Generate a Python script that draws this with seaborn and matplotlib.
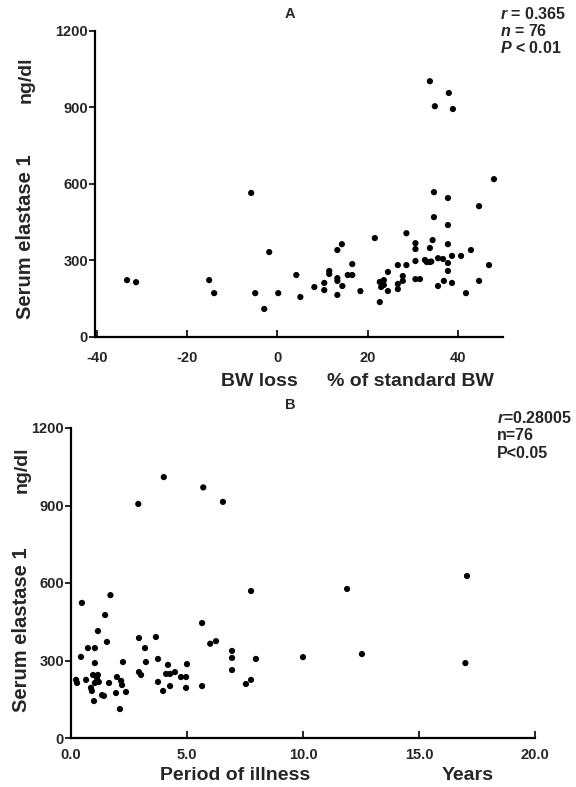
import matplotlib
matplotlib.use("Agg")
import matplotlib.pyplot as plt
import pandas as pd
import seaborn as sns

# Panel A: body weight loss (% of standard BW) vs serum elastase 1 (ng/dl)
bw_loss = [-33.3, -31.3, -15.1, -14.0, -5.8, -4.9, -2.9, -1.8, 0.2, 4.2,
           5.1, 8.2, 10.4, 10.4, 11.5, 11.5, 13.3, 14.3, 13.3, 13.3,
           14.4, 13.3, 15.6, 16.6, 16.6, 18.4, 21.6, 22.7, 22.7, 23.6,
           23.6, 24.5, 24.5, 26.7, 26.7, 26.7, 27.8, 27.8, 28.6, 28.6,
           30.6, 30.6, 30.6, 30.6, 31.6, 32.7, 33.1, 33.8, 33.8, 34.4,
           34.7, 35.6, 35.6, 36.7, 36.9, 37.8, 37.8, 37.8, 37.8, 38.7,
           38.7, 40.7, 41.8, 42.9, 44.7, 44.7, 46.9, 33.8, 38.0, 34.9,
           38.9, 48.0, 34.7, 37.8, 23.0, 34.1]
elastase_a = [223, 215, 223, 172, 565, 172, 110, 333, 172, 243,
              157, 196, 184, 212, 259, 247, 341, 364, 231, 220,
              200, 165, 243, 243, 286, 180, 388, 137, 216, 223,
              204, 255, 180, 208, 188, 282, 220, 239, 407, 282,
              368, 345, 298, 227, 227, 302, 294, 294, 349, 380,
              470, 200, 309, 306, 220, 364, 290, 259, 439, 318,
              212, 318, 172, 341, 513, 220, 282, 1003, 957, 905,
              894, 619, 568, 545, 196, 296]

# Panel B: period of illness (years) vs serum elastase 1 (ng/dl)
illness_years = [4.0, 5.7, 6.55, 2.9, 0.47, 1.7, 1.47, 1.16, 1.55, 2.93,
                 3.66, 5.65, 6.0, 6.25, 7.76, 11.9, 17.07, 5.65, 6.94, 6.94,
                 6.94, 7.54, 7.76, 7.97, 10.0, 12.54, 17.0, 0.43, 0.73, 1.03,
                 3.19, 1.03, 2.24, 3.23, 3.75, 4.18, 5.0, 0.22, 0.26, 0.65,
                 0.95, 1.16, 1.12, 1.2, 1.03, 0.86, 0.9, 0.99, 1.34, 1.42,
                 1.64, 1.98, 1.94, 2.16, 2.2, 2.37, 2.11, 2.93, 3.02, 3.75,
                 3.97, 4.1, 4.27, 4.27, 4.48, 4.74, 4.96, 4.96]
elastase_b = [1010, 970, 914, 906, 523, 553, 476, 414, 372, 387,
              391, 445, 365, 375, 569, 577, 627, 201, 337, 310,
              263, 209, 225, 306, 313, 325, 290, 314, 348, 348,
              348, 290, 294, 294, 306, 283, 286, 225, 213, 225,
              244, 244, 232, 217, 213, 194, 182, 143, 166, 163,
              213, 236, 174, 221, 205, 178, 112, 255, 244, 217,
              182, 248, 248, 201, 255, 236, 236, 194]

y_ticks = [0, 300, 600, 900, 1200]
a_xticks = [-40, -20, 0, 20, 40]
b_xticks = [0, 5, 10, 15, 20]
b_xticklabels = ["0.0", "5.0", "10.0", "15.0", "20.0"]

df_a = pd.DataFrame({"bw": bw_loss, "elastase": elastase_a})
df_b = pd.DataFrame({"years": illness_years, "elastase": elastase_b})

sns.set_style("ticks")
plt.rcParams["font.family"] = ["Liberation Sans", "DejaVu Sans"]
plt.rcParams["font.weight"] = "bold"
plt.rcParams["axes.unicode_minus"] = False
plt.rcParams["mathtext.fontset"] = "custom"
plt.rcParams["mathtext.it"] = "Liberation Sans:italic:bold"
plt.rcParams["mathtext.rm"] = "Liberation Sans:bold"

W, H = 576, 787
fig = plt.figure(figsize=(W / 100, H / 100), dpi=100)


def px_axes(left, top, right, bottom):
    return fig.add_axes([left / W, 1 - bottom / H, (right - left) / W, (bottom - top) / H])


def style_axis(ax, xpad):
    sns.despine(ax=ax)
    for sp in ax.spines.values():
        sp.set_linewidth(1.6)
        sp.set_color("black")
    ax.tick_params(axis="y", direction="out", length=4, width=1.4, labelsize=10.5, pad=1)
    ax.tick_params(axis="x", direction="in", length=5, width=1.4, labelsize=10.5, pad=xpad)
    for lab in ax.get_xticklabels() + ax.get_yticklabels():
        lab.set_fontweight("bold")


# ---- Panel A
ax1 = px_axes(95, 31, 503, 337)
sns.scatterplot(data=df_a, x="bw", y="elastase", ax=ax1, color="black",
                s=20, edgecolor="none", legend=False)
ax1.set_xlim(-40.4, 50)
ax1.set_ylim(0, 1200)
ax1.set_xticks(a_xticks)
ax1.set_yticks(y_ticks)
ax1.set_xlabel("")
ax1.set_ylabel("")
style_axis(ax1, 10)

# ---- Panel B
ax2 = px_axes(71, 428, 535, 738)
sns.scatterplot(data=df_b, x="years", y="elastase", ax=ax2, color="black",
                s=20, edgecolor="none", legend=False)
ax2.set_xlim(0, 20)
ax2.set_ylim(0, 1200)
ax2.set_xticks(b_xticks)
ax2.set_xticklabels(b_xticklabels)
ax2.set_yticks(y_ticks)
ax2.set_xlabel("")
ax2.set_ylabel("")
style_axis(ax2, 7)


def ftext(x, y, s, **kw):
    fig.text(x / W, 1 - y / H, s, fontweight="bold", **kw)


# titles
ftext(290, 14, "A", fontsize=10.5, ha="center", va="center")
ftext(290, 405, "B", fontsize=10.5, ha="center", va="center")

# stats
ftext(500, 14, r"$r$ = 0.365", fontsize=11.5, va="center")
ftext(500, 31, r"$n$ = 76", fontsize=11.5, va="center")
ftext(500, 48, r"$P$ < 0.01", fontsize=11.5, va="center")
ftext(497, 418, r"$r$=0.28005", fontsize=11.5, va="center")
ftext(497, 436, "n=76", fontsize=11.5, va="center")
ftext(497, 453, "P<0.05", fontsize=11.5, va="center")

# y labels
ftext(26, 80, "ng/dl", fontsize=14, rotation=90, ha="center", va="center")
ftext(26, 237, "Serum elastase 1", fontsize=14.5, rotation=90, ha="center", va="center")
ftext(22, 470, "ng/dl", fontsize=14, rotation=90, ha="center", va="center")
ftext(22, 630, "Serum elastase 1", fontsize=14.5, rotation=90, ha="center", va="center")

# x labels
ftext(259, 381, "BW loss", fontsize=14, ha="center", va="center")
ftext(410, 381, "% of standard BW", fontsize=14, ha="center", va="center")
ftext(235, 776, "Period of illness", fontsize=14, ha="center", va="center")
ftext(468, 776, "Years", fontsize=14, ha="center", va="center")

fig.savefig("out.png", dpi=100, facecolor="white")
